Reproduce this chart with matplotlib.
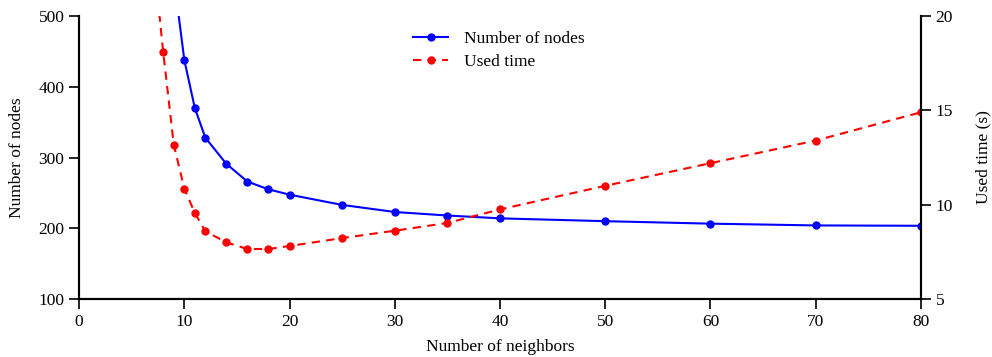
import matplotlib
matplotlib.use("Agg")
import matplotlib.pyplot as plt

plt.rcParams['font.family'] = ['Liberation Serif', 'DejaVu Serif']
plt.rcParams['mathtext.fontset'] = 'stix'

# Number of neighbors vs. resulting graph size
nodes_neighbors = [9, 10, 11, 12, 14, 16, 18, 20, 25, 30, 35, 40, 50, 60, 70, 80]
nodes_count = [555, 438, 370, 328, 291, 266, 255, 247.5, 233, 223, 218, 214, 210, 206.5, 204, 203.5]

# Number of neighbors vs. elapsed time (seconds)
time_neighbors = [7, 8, 9, 10, 11, 12, 14, 16, 18, 20, 25, 30, 35, 40, 50, 60, 70, 80]
time_seconds = [23.5, 18.07, 13.18, 10.85, 9.56, 8.59, 8.0, 7.65, 7.65, 7.81, 8.23, 8.62, 9.03, 9.75, 11.0, 12.2, 13.4, 14.9]

x_ticks = [0, 10, 20, 30, 40, 50, 60, 70, 80]
left_ticks = [100, 200, 300, 400, 500]
right_ticks = [5, 10, 15, 20]

FS = 12.5

fig = plt.figure(figsize=(9.92, 3.57), dpi=100)
ax = fig.add_axes([0.0797, 0.1625, 0.8487, 0.7925])
ax2 = ax.twinx()

l1, = ax.plot(nodes_neighbors, nodes_count, color='#0000ff', lw=1.5,
              marker='o', ms=5, label='Number of nodes')
l2, = ax2.plot(time_neighbors, time_seconds, color='#ff0000', lw=1.5, ls=(0, (4, 3)),
               marker='o', ms=5, label='Used time')

ax.set_xlim(0, 80)
ax.set_ylim(100, 500)
ax2.set_ylim(5, 20)
ax.set_xticks(x_ticks)
ax.set_yticks(left_ticks)
ax2.set_yticks(right_ticks)

for a in (ax, ax2):
    a.spines['top'].set_visible(False)
    for s in a.spines.values():
        s.set_linewidth(1.5)
        s.set_color('black')
    a.tick_params(direction='out', length=7, width=1.2, labelsize=FS, colors='black')

ax.set_xlabel('Number of neighbors', fontsize=FS, labelpad=7)
ax.set_ylabel('Number of nodes', fontsize=FS, labelpad=9.5)
ax2.set_ylabel('Used time (s)', fontsize=FS, labelpad=16.5)

leg = ax.legend(handles=[l1, l2], loc='upper left', bbox_to_anchor=(0.397, 0.947),
                frameon=False, fontsize=FS, handlelength=2.0, handletextpad=0.9,
                labelspacing=0.4, borderaxespad=0, borderpad=0)

fig.savefig('out.png', dpi=100)
